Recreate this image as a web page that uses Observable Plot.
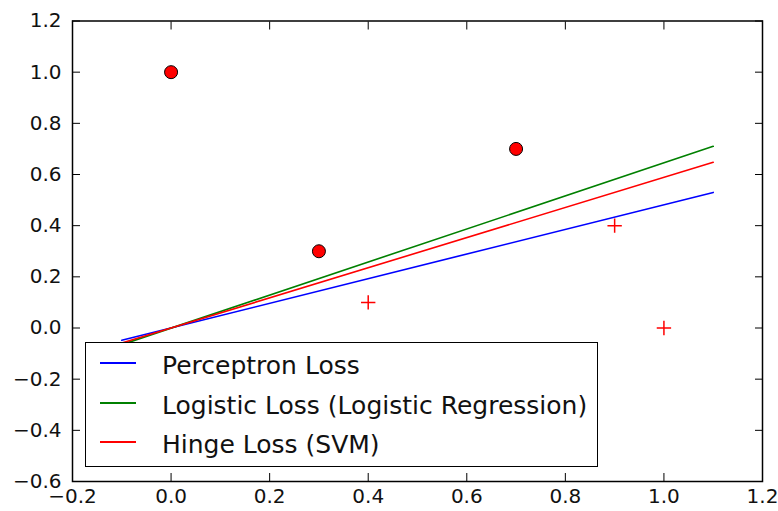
<!DOCTYPE html>
<html>
<head>
<meta charset="utf-8">
<script src="https://cdn.jsdelivr.net/npm/d3@7"></script>
<script src="https://cdn.jsdelivr.net/npm/@observablehq/plot@0.6"></script>
<style>
  html, body { margin: 0; padding: 0; background: #fff; }
  #wrap { position: relative; width: 778px; height: 511px; }
  #legend {
    position: absolute; left: 84.5px; top: 341.5px;
    width: 511px; height: 123px; border: 1.5px solid #000; background: #fff;
    font-family: "DejaVu Sans"; font-size: 25px; color: #111;
  }
  .row { position: absolute; left: 0; height: 30px; line-height: 30px; width: 100%; }
  .swatch { position: absolute; left: 14.5px; top: 14px; width: 36px; height: 2px; }
  .lab { position: absolute; left: 76.5px; top: 2.5px; white-space: nowrap; }
</style>
</head>
<body>
<div id="wrap"></div>
<script>
// ---- data ----
const xTicks = [-0.2, 0.0, 0.2, 0.4, 0.6, 0.8, 1.0, 1.2];
const yTicks = [-0.6, -0.4, -0.2, 0.0, 0.2, 0.4, 0.6, 0.8, 1.0, 1.2];

const seriesNames = ["Perceptron Loss", "Logistic Loss (Logistic Regression)", "Hinge Loss (SVM)"];
const seriesColors = ["#0000ff", "#008000", "#ff0000"];
const lineX = [-0.1, 1.1];
const perceptronY = [-0.048, 0.530];
const logisticY = [-0.065, 0.710];
const hingeY = [-0.059, 0.648];

const posX = [0.0, 0.3, 0.7];
const posY = [1.0, 0.3, 0.7];
const negX = [0.4, 0.9, 1.0];
const negY = [0.1, 0.4, 0.0];

// ---- tables ----
const seriesValues = [perceptronY, logisticY, hingeY];
const lineRows = seriesNames.flatMap((s, j) => lineX.map((x, i) => ({series: s, x, y: seriesValues[j][i]})));
const posRows = posX.map((x, i) => ({x, y: posY[i]}));
const negRows = negX.map((x, i) => ({x, y: negY[i]}));
const fmt = d3.format(".1f");

const chart = Plot.plot({
  width: 778, height: 511,
  marginLeft: 72, marginRight: 16, marginTop: 20.5, marginBottom: 30,
  x: {domain: [-0.2, 1.2]},
  y: {domain: [-0.6, 1.2]},
  color: {domain: seriesNames, range: seriesColors},
  style: {fontFamily: "DejaVu Sans", fontSize: "20px", color: "#111", background: "#fff"},
  marks: [
    Plot.line(lineRows, {x: "x", y: "y", z: "series", stroke: "series", strokeWidth: 1.6}),
    Plot.dot(negRows, {x: "x", y: "y", symbol: "plus", r: 4.7, stroke: "#ff0000", strokeWidth: 1.5}),
    Plot.dot(posRows, {x: "x", y: "y", r: 6.5, fill: "#ff0000", stroke: "#000", strokeWidth: 1}),
    Plot.axisX({ticks: xTicks, tickSize: -8, tickPadding: 15, tickFormat: fmt, label: null, stroke: "#000"}),
    Plot.axisX({anchor: "top", ticks: xTicks, tickSize: -8, tickFormat: () => "", label: null, stroke: "#000"}),
    Plot.axisY({ticks: yTicks, tickSize: -8, tickPadding: 19, tickFormat: fmt, label: null, stroke: "#000"}),
    Plot.axisY({anchor: "right", ticks: yTicks, tickSize: -8, tickFormat: () => "", label: null, stroke: "#000"}),
    Plot.frame({stroke: "#000", strokeWidth: 1.5})
  ]
});

const wrap = document.getElementById("wrap");
wrap.appendChild(chart);

const legend = d3.select(wrap).append("div").attr("id", "legend");
const rowCenters = [20.5, 60.5, 99.5];
seriesNames.forEach((s, i) => {
  const row = legend.append("div").attr("class", "row").style("top", (rowCenters[i] - 15) + "px");
  row.append("div").attr("class", "swatch").style("background", seriesColors[i]);
  row.append("div").attr("class", "lab").text(s);
});
</script>
</body>
</html>
